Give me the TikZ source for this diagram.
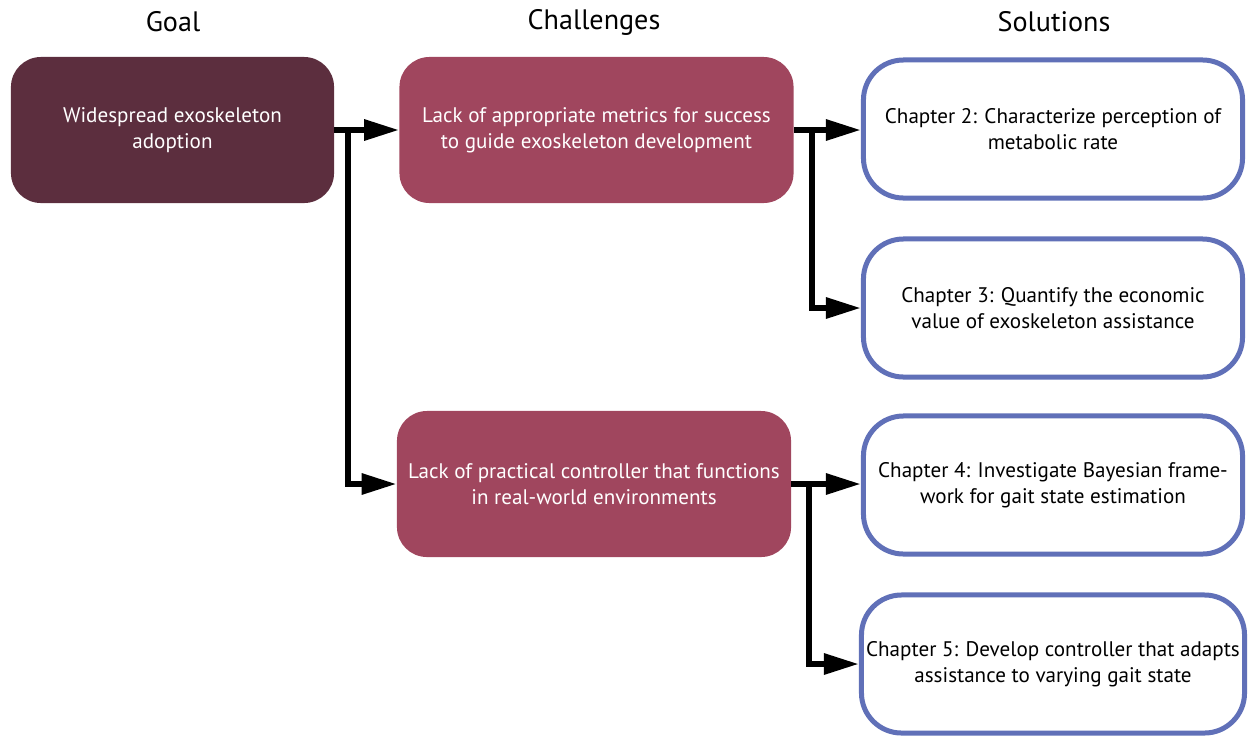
\documentclass[tikz,border=0pt]{standalone}
\usepackage{fontspec}
\setmainfont{PT Sans}
\usepackage{tikz}
\usetikzlibrary{shapes,arrows.meta,calc,positioning}
\tikzset{>={Triangle[length=0.875cm,width=0.5cm]}}
\definecolor{goalred}{HTML}{5C2E3E}
\definecolor{challred}{HTML}{A0465E}
\definecolor{solblue}{HTML}{6070B8}

\begin{document}
\begin{tikzpicture}[x=0.025cm,y=-0.025cm,
    title/.style={font=\fontsize{20}{24}\selectfont},
    goalbox/.style={rounded corners=0.75cm, fill=goalred, text=white, align=center,
      minimum width=8.075cm, minimum height=3.65cm, font=\fontsize{15}{18.5}\selectfont},
    challbox/.style={rounded corners=0.75cm, fill=challred, text=white, align=center,
      minimum width=9.85cm, minimum height=3.65cm, font=\fontsize{15}{18.5}\selectfont},
    solbox/.style={rounded corners=1cm, draw=solblue, line width=0.125cm, fill=white, align=center,
      minimum width=9.475cm, minimum height=3.45cm, font=\fontsize{15}{18.5}\selectfont},
    conn/.style={line width=0.15cm}]
  \useasboundingbox (0,0) rectangle (1248,738);

  % column titles
  \node[title] (tgoal) at (173,22) {Goal};
  \node[title] (tchall) at (594,22) {Challenges};
  \node[title] (tsol) at (1054,22) {Solutions};

  \node[goalbox] (goal) at (172.5,130) {Widespread exoskeleton\\adoption};
  \node[challbox] (metrics) at (596.5,130) {Lack of appropriate metrics for success\\to guide exoskeleton development};
  \node[challbox] (control) at (594,484) {Lack of practical controller that functions\\in real-world environments};

  \node[solbox] (ch2) at (1053,129) {Chapter 2: Characterize perception of\\metabolic rate};
  \node[solbox] (ch3) at (1053,308) {Chapter 3: Quantify the economic\\value of exoskeleton assistance};
  \node[solbox] (ch4) at (1053,485) {Chapter 4: Investigate Bayesian frame-\\work for gait state estimation};
  \node[solbox] (ch5) at (1053,664) {Chapter 5: Develop controller that adapts\\assistance to varying gait state};

  % branch points
  \coordinate (bgoal) at ($(goal.east)+(0.35cm,0)$);
  \coordinate (bmetrics) at ($(metrics.east)+(0.45cm,0)$);
  \coordinate (bcontrol) at ($(control.east)+(0.45cm,0)$);

  \draw[conn,->] (goal.east) -- (goal.east -| metrics.west);
  \draw[conn,->] (bgoal) |- (control.west);
  \draw[conn,->] (metrics.east) -- (metrics.east -| ch2.west);
  \draw[conn,->] (bmetrics) |- (ch3.west);
  \draw[conn,->] (control.east) -- (control.east -| ch4.west);
  \draw[conn,->] (bcontrol) |- (ch5.west);
\end{tikzpicture}
\end{document}
